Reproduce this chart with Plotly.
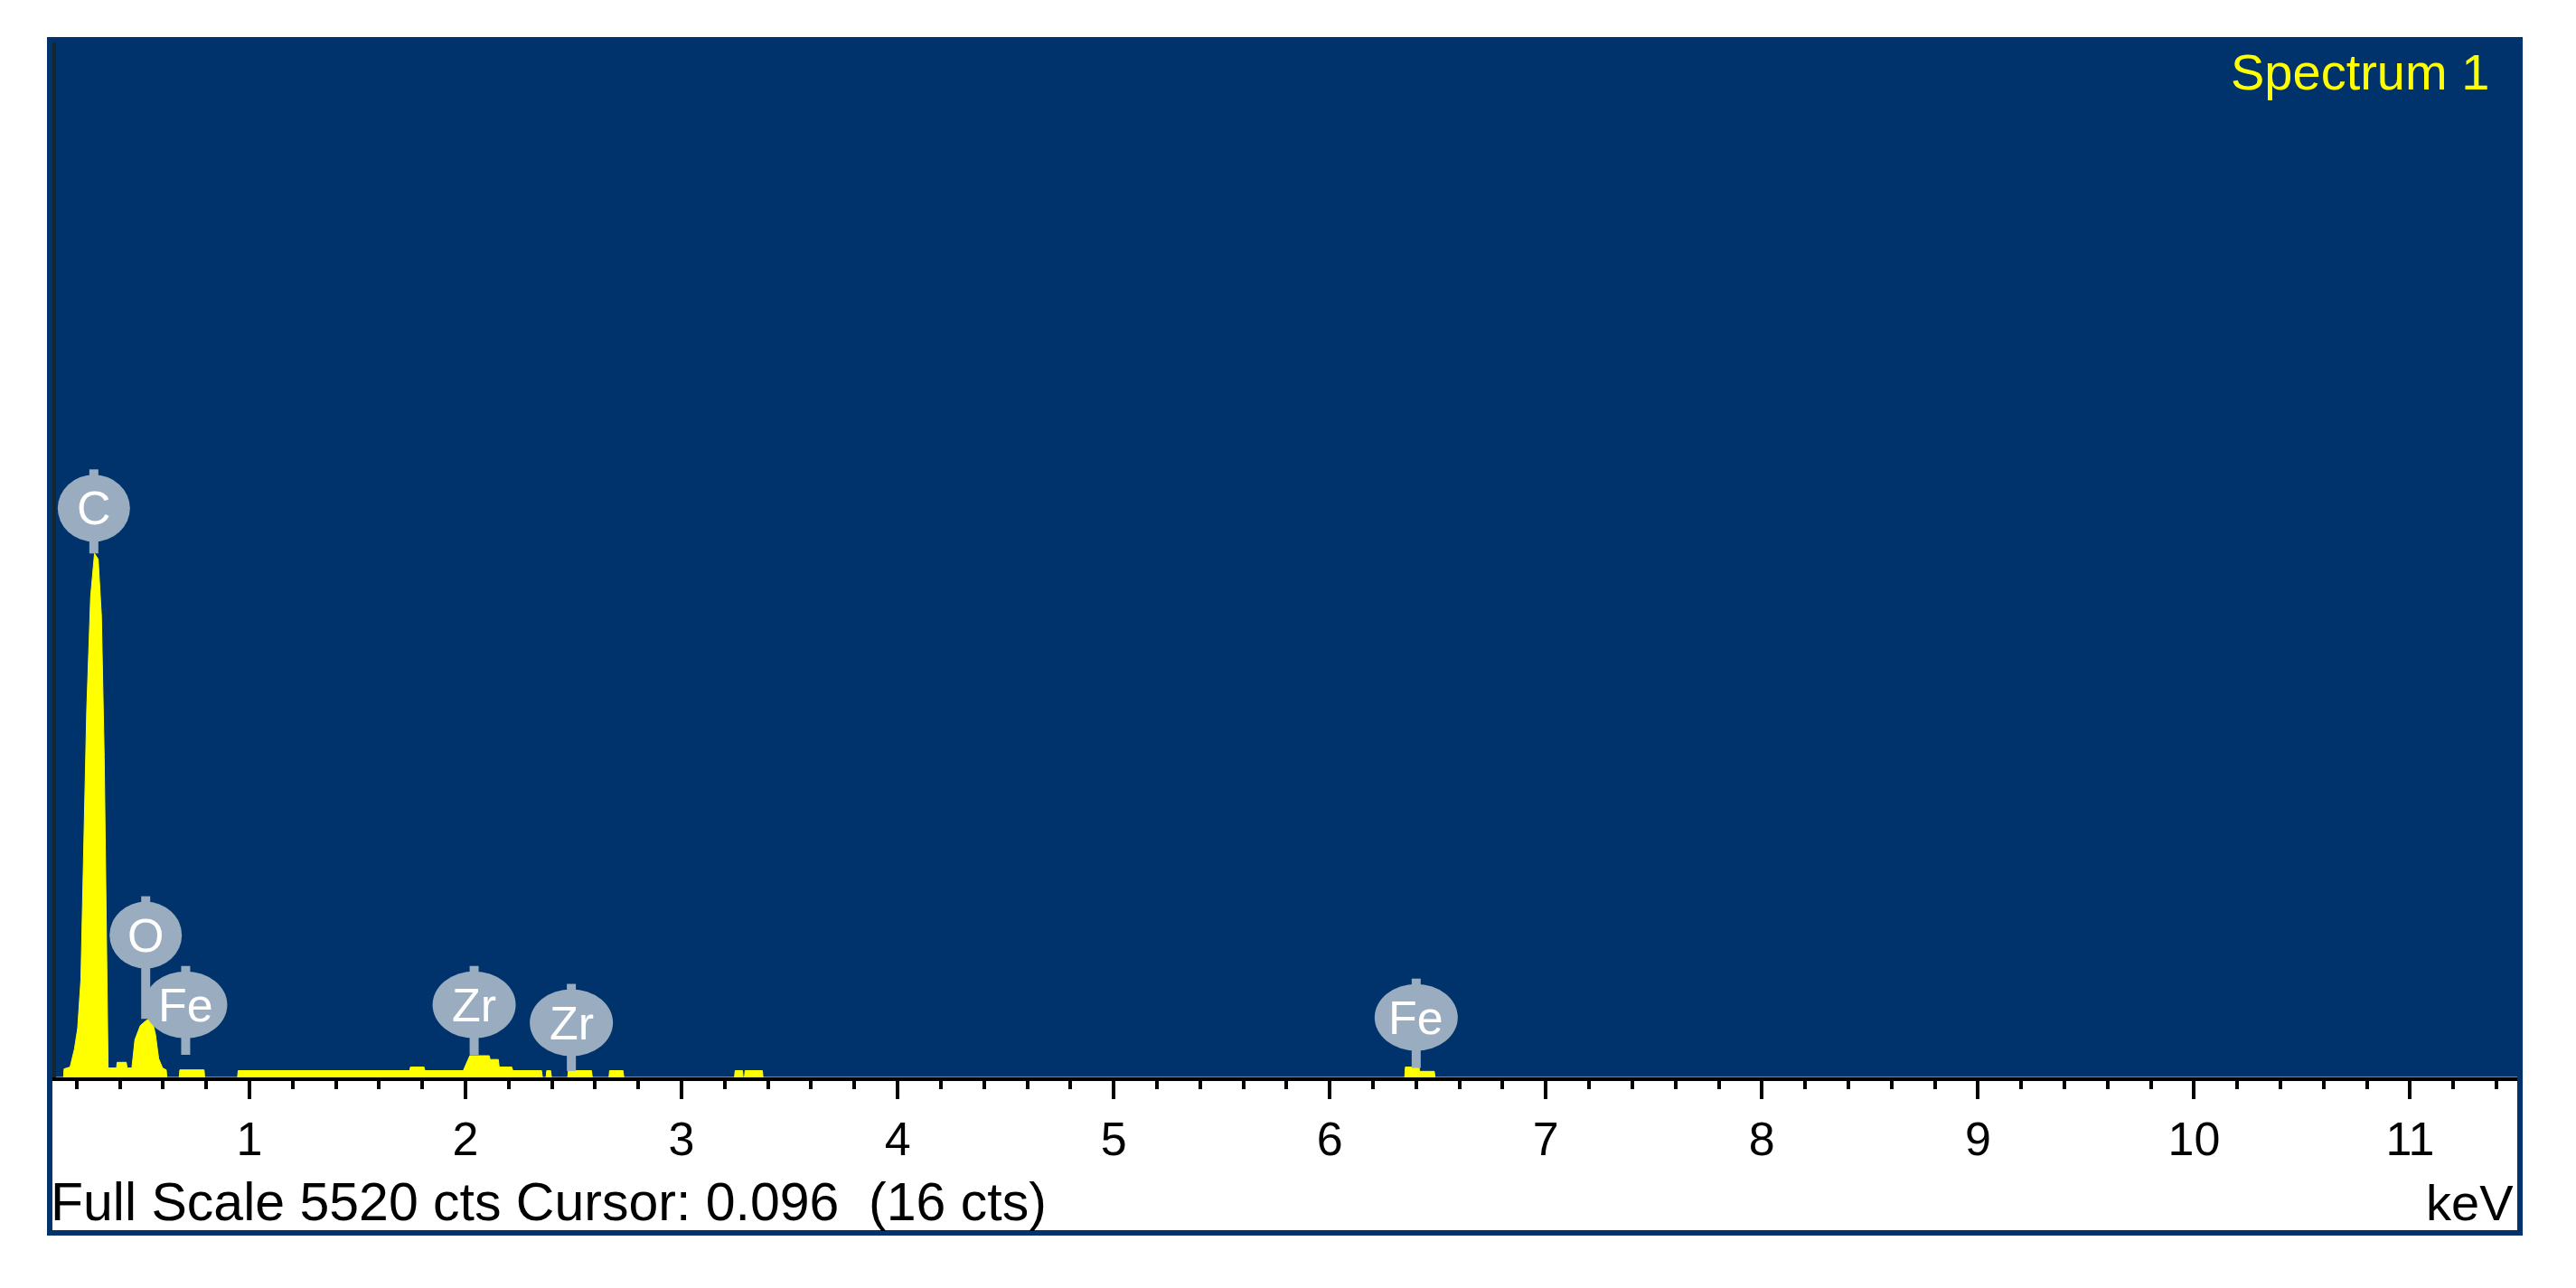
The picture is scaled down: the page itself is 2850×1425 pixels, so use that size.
import plotly.graph_objects as go

# EDS spectrum (keV, counts)
energy_kev = [0.105, 0.14, 0.142, 0.17, 0.19, 0.205, 0.22, 0.232, 0.247, 0.265, 0.283, 0.300,
              0.315, 0.328, 0.336, 0.341, 0.346, 0.385, 0.388, 0.430, 0.434, 0.456, 0.470,
              0.495, 0.520, 0.535, 0.550, 0.565, 0.580, 0.598, 0.615, 0.618, 0.675, 0.678,
              0.790, 0.793, 0.945, 0.948, 1.742, 1.745, 1.808, 1.812, 1.990, 1.997, 2.020,
              2.110, 2.114, 2.152, 2.156, 2.214, 2.219, 2.352, 2.356, 2.373, 2.376, 2.394,
              2.398, 2.473, 2.476, 2.583, 2.587, 2.664, 2.667, 2.729, 2.733, 3.245, 3.248,
              3.282, 3.285, 3.291, 3.294, 3.374, 3.377, 6.347, 6.350, 6.413, 6.416, 6.484,
              6.487, 11.5]
counts = [0, 0, 45, 55, 150, 260, 520, 1100, 1950, 2550, 2780, 2750,
          2450, 1700, 1000, 300, 50, 50, 80, 80, 50, 50, 200,
          275, 300, 310, 300, 230, 100, 50, 40, 0, 0, 40,
          40, 0, 0, 36, 36, 55, 55, 36, 36, 55, 115,
          115, 95, 95, 55, 55, 36, 36, 0, 0, 36, 36,
          0, 0, 36, 36, 0, 0, 36, 36, 0, 0, 36,
          36, 0, 0, 36, 36, 0, 0, 55, 55, 32, 32,
          0, 0]

# element markers
label_names = ["C", "O", "Fe", "Zr", "Zr", "Fe"]
label_kev = [0.28, 0.52, 0.705, 2.04, 2.49, 6.40]
label_cts = [3020, 755, 385, 385, 290, 318]
stem_cts = [2780, 310, 120, 118, 34, 50]

full_scale = 5520
x_range = [0.105, 11.5]
tick_vals = list(range(1, 12))

BLUE = "#00326B"
PIN = "#9AACBF"
FONT = "Liberation Sans, Arial, sans-serif"

W, H = 2850, 1425
ML, MR, MT, MB = 62, 64, 41, 233
PW, PH = W - ML - MR, H - MT - MB


def px(x):
    return (x - ML) / PW


def py(y):
    return (H - MB - y) / PH


fig = go.Figure()
fig.add_trace(go.Scatter(x=energy_kev, y=counts, mode="lines",
                         line=dict(color="#FFFF00", width=1),
                         fill="tozeroy", fillcolor="#FFFF00", hoverinfo="skip"))

shapes = [
    dict(type="rect", xref="paper", yref="paper", x0=px(52), x1=px(2791), y0=0, y1=py(41),
         fillcolor=BLUE, line_width=0, layer="below"),
    dict(type="rect", xref="paper", yref="paper", x0=px(55), x1=px(2788), y0=py(1364), y1=py(44),
         line=dict(color=BLUE, width=6), fillcolor="rgba(0,0,0,0)", layer="above"),
]
# pin stems, then pin heads
for e, c, s in zip(label_kev, label_cts, stem_cts):
    shapes.append(dict(type="line", xref="x", yref="y", x0=e, x1=e, y0=s, y1=c,
                       line=dict(color=PIN, width=10)))
    shapes.append(dict(type="line", xref="x", yref="y", x0=e, x1=e, ysizemode="pixel",
                       yanchor=c, y0=0, y1=43, line=dict(color=PIN, width=10)))
for e, c, n in zip(label_kev, label_cts, label_names):
    half_w = 46 if len(n) > 1 else 40
    shapes.append(dict(type="circle", xref="x", yref="y", xsizemode="pixel", ysizemode="pixel",
                       xanchor=e, yanchor=c, x0=-half_w, x1=half_w, y0=-37, y1=37,
                       fillcolor=PIN, line_width=0))

annotations = [
    dict(text=n, x=e, y=c, xref="x", yref="y", showarrow=False,
         font=dict(family=FONT, size=52, color="white"))
    for n, e, c in zip(label_names, label_kev, label_cts)
]
annotations += [
    dict(text="Spectrum 1", xref="paper", yref="paper", x=px(2756), y=py(80),
         xanchor="right", yanchor="middle", showarrow=False,
         font=dict(family=FONT, size=56, color="#FFFF00")),
    dict(text="Full Scale 5520 cts Cursor: 0.096\u00a0 (16 cts)", xref="paper", yref="paper",
         x=px(54), y=py(1330), xanchor="left", yanchor="middle", showarrow=False,
         font=dict(family=FONT, size=59, color="black")),
    dict(text="keV", xref="paper", yref="paper", x=px(2783), y=py(1330),
         xanchor="right", yanchor="middle", showarrow=False,
         font=dict(family=FONT, size=56, color="black")),
]

fig.update_layout(
    width=W, height=H, margin=dict(l=ML, r=MR, t=MT, b=MB),
    paper_bgcolor="white", plot_bgcolor=BLUE, showlegend=False,
    shapes=shapes, annotations=annotations,
    xaxis=dict(range=x_range, tickvals=tick_vals, ticks="outside", ticklen=20, tickwidth=4,
               tickcolor="black", showline=True, linecolor="black", linewidth=4,
               showgrid=False, zeroline=False,
               tickfont=dict(family=FONT, size=52, color="black"),
               minor=dict(dtick=0.2, tick0=0, ticks="outside", ticklen=9, tickwidth=4,
                          tickcolor="black", showgrid=False)),
    yaxis=dict(range=[0, full_scale], showline=True, linecolor="#16262E", linewidth=5,
               showticklabels=False, ticks="", showgrid=False, zeroline=False),
)

# the page's default body margin would push the figure 8px right and down
fig.write_html("out.html", config={"displayModeBar": False},
               post_script="document.body.style.margin = '0';")
